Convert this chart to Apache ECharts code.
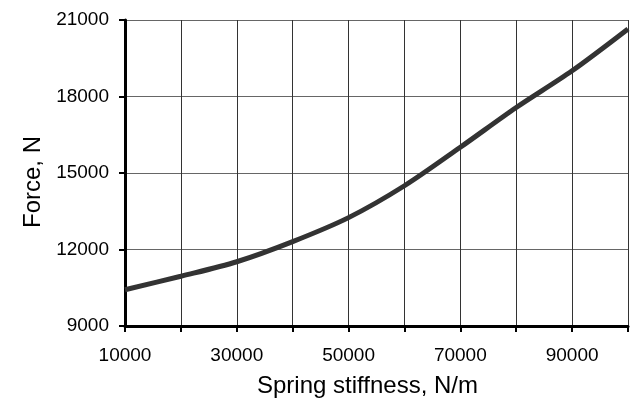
<!DOCTYPE html>
<html><head><meta charset="utf-8">
<script src="https://cdn.jsdelivr.net/npm/echarts@6/dist/echarts.min.js"></script>
<style>html,body{margin:0;padding:0;background:#fff}#c{width:632px;height:403px}</style>
</head><body><div id="c"></div>
<script>
const stiffness = [10000,20000,30000,40000,50000,60000,70000,80000,90000,100000];
const force = [10420,10950,11520,12310,13250,14500,16010,17570,19010,20650];
const xTitle = 'Spring stiffness, N/m';
const yTitle = 'Force, N';
const chart = echarts.init(document.getElementById('c'));
const font = 'Liberation Sans, Arial, sans-serif';
chart.setOption({
  animation:false,
  grid:{left:125,right:4,top:20,bottom:75},
  xAxis:{type:'value',min:10000,max:100000,interval:10000,
    name:xTitle,nameLocation:'middle',nameGap:48,
    nameTextStyle:{fontFamily:font,fontSize:24,color:'#000',padding:[0,18,0,0]},
    axisLine:{lineStyle:{color:'#000',width:3}},
    axisTick:{length:6,lineStyle:{color:'#000',width:2}},
    axisLabel:{fontFamily:font,fontSize:19,color:'#000',margin:20,
      formatter:v=>((v/10000)%2===1?String(v):'')},
    splitLine:{lineStyle:{color:'#333',width:1}}},
  yAxis:{type:'value',min:9000,max:21000,interval:3000,
    name:yTitle,nameLocation:'middle',nameGap:80,
    nameTextStyle:{fontFamily:font,fontSize:24,color:'#000',padding:[0,18,0,0]},
    axisLine:{show:true,lineStyle:{color:'#000',width:3}},
    axisTick:{show:true,length:6,lineStyle:{color:'#000',width:2}},
    axisLabel:{fontFamily:font,fontSize:19,color:'#000',margin:16,
      formatter:v=>String(v)},
    splitLine:{lineStyle:{color:'#666',width:1}}},
  series:[{type:'line',data:stiffness.map((x,i)=>[x,force[i]]),smooth:0.3,
    showSymbol:false,lineStyle:{color:'#333',width:5},z:5}]
});
</script></body></html>
